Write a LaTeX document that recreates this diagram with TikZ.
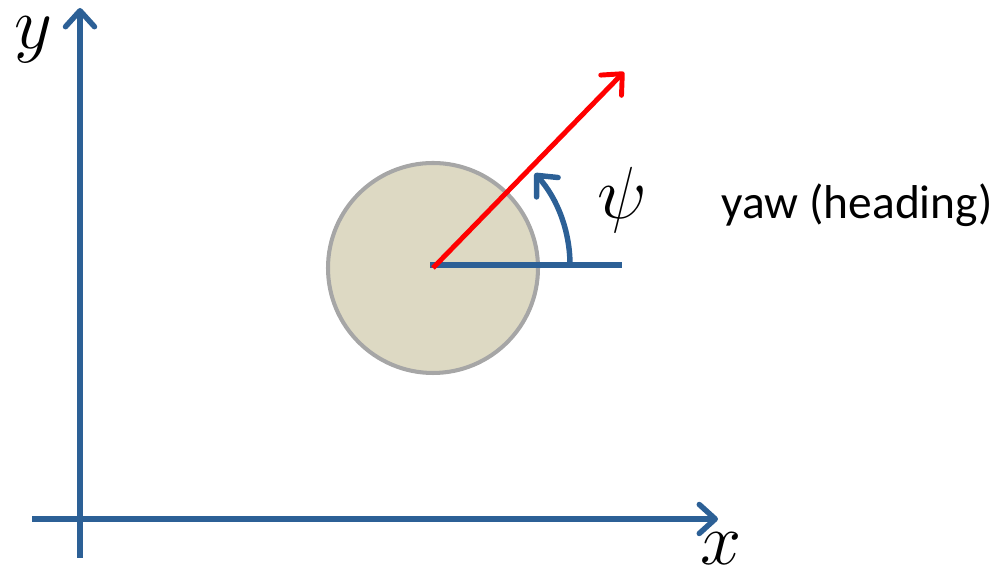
\RequirePackage{fix-cm}
\documentclass[tikz,border=0pt]{standalone}
\usepackage{fontspec}
\newfontfamily\labelfont{Carlito}
\usetikzlibrary{arrows.meta}
\definecolor{axisblue}{RGB}{44,96,150}
\definecolor{bodytan}{RGB}{221,217,195}
\definecolor{rimgray}{RGB}{166,166,166}
\begin{document}
\begin{tikzpicture}[
    axis/.style={draw=axisblue, line width=3.1pt, -{Straight Barb[round, length=3.2mm, width=5.8mm]}},
    heading/.style={draw=red, line width=2.8pt, -{Straight Barb[round, length=3.2mm, width=5.8mm]}},
    mathlabel/.style={font=\fontsize{42}{48}\selectfont},
    every node/.style={inner sep=0pt}
]
\useasboundingbox (0,0) rectangle (19.94,11.3);
% axes
\coordinate (origin) at (1.6,0.92);
\coordinate (xstart) at (0.64,0.92);
\coordinate (xend) at (14.36,0.92);
\coordinate (ystart) at (1.6,0.14);
\coordinate (yend) at (1.6,11.14);
\draw[axis] (xstart) -- (xend);
\draw[axis] (ystart) -- (yend);
\node[mathlabel] (xlabel) at (14.42,0.32) {$x$};
\node[mathlabel] (ylabel) at (0.66,10.5) {$y$};
% body
\node[circle, draw=rimgray, line width=2.3pt, fill=bodytan,
      minimum size=4.2cm] (robot) at (8.66,5.94) {};
\coordinate (centre) at (8.6,6.0);
\coordinate (ref) at (12.44,6.0);
\draw[axisblue, line width=3.1pt] (centre) -- (ref);
\coordinate (tip) at (12.48,9.86);
\draw[heading] (robot.center) -- (tip);
% angle
\draw[axis] ([shift={(0:2.74)}]8.66,6.0) arc[start angle=0, end angle=42, radius=2.74];
\node[mathlabel] (psi) at (12.44,7.3) {$\psi$};
\node[font=\labelfont\fontsize{27}{32}\selectfont] (yaw) at (17.14,7.2) {yaw (heading)};
\end{tikzpicture}
\end{document}
